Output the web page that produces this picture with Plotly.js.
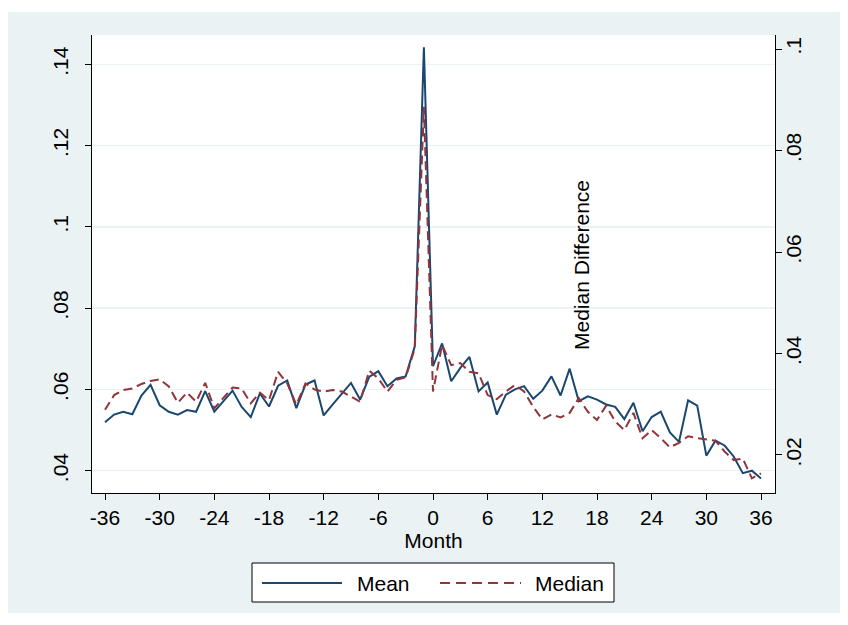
<!DOCTYPE html>
<html>
<head>
<meta charset="utf-8">
<script src="https://cdn.plot.ly/plotly-3.0.1.min.js"></script>
<style>html,body{margin:0;padding:0;background:#fff;}#chart{width:848px;height:625px;}</style>
</head>
<body>
<div id="chart"></div>
<script>
const months = [-36,-35,-34,-33,-32,-31,-30,-29,-28,-27,-26,-25,-24,-23,-22,-21,-20,-19,-18,-17,-16,-15,-14,-13,-12,-11,-10,-9,-8,-7,-6,-5,-4,-3,-2,-1,0,1,2,3,4,5,6,7,8,9,10,11,12,13,14,15,16,17,18,19,20,21,22,23,24,25,26,27,28,29,30,31,32,33,34,35,36];
const meanVals = [0.0519,0.0538,0.0545,0.0539,0.0585,0.0611,0.0561,0.0545,0.0538,0.0549,0.0545,0.0596,0.0545,0.0571,0.0597,0.0557,0.0532,0.0590,0.0558,0.0609,0.0622,0.0554,0.0612,0.0622,0.0536,0.0563,0.0590,0.0616,0.0575,0.0631,0.0645,0.0608,0.0627,0.0632,0.0706,0.1442,0.0657,0.0713,0.0620,0.0653,0.0680,0.0595,0.0617,0.0538,0.0587,0.0600,0.0608,0.0577,0.0597,0.0632,0.0585,0.0651,0.0571,0.0583,0.0575,0.0563,0.0557,0.0527,0.0567,0.0497,0.0532,0.0545,0.0494,0.0471,0.0573,0.0560,0.0437,0.0474,0.0462,0.0435,0.0394,0.0400,0.0381];
const medianVals = [0.0289,0.0318,0.0328,0.0331,0.0340,0.0346,0.0349,0.0335,0.0303,0.0323,0.0305,0.0342,0.0292,0.0312,0.0333,0.0331,0.0302,0.0323,0.0308,0.0364,0.0341,0.0299,0.0341,0.0329,0.0325,0.0328,0.0325,0.0315,0.0305,0.0366,0.0351,0.0325,0.0348,0.0353,0.0410,0.0886,0.0325,0.0417,0.0377,0.0381,0.0364,0.0361,0.0318,0.0310,0.0325,0.0338,0.0325,0.0295,0.0270,0.0280,0.0274,0.0283,0.0312,0.0285,0.0269,0.0297,0.0266,0.0249,0.0283,0.0233,0.0249,0.0233,0.0215,0.0224,0.0237,0.0233,0.0231,0.0228,0.0207,0.0190,0.0193,0.0154,0.0164];
const xTicks = [-36,-30,-24,-18,-12,-6,0,6,12,18,24,30,36];
const leftTickVals = [0.04,0.06,0.08,0.10,0.12,0.14];
const leftTickText = ['.04','.06','.08','.1','.12','.14'];
const rightTickVals = [0.02,0.04,0.06,0.08,0.10];
const rightTickText = ['.02','.04','.06','.08','.1'];
const seriesNames = ['Mean','Median'];
const xTitle = 'Month';
const y2Title = 'Median Difference';

const MEAN_COLOR = '#1a476f';
const MED_COLOR = '#90353b';
const BG = '#eaf2f3';
const FONT = 'Liberation Sans, Arial, Helvetica, sans-serif';

// plot area in pixels
const P = {l: 92, r: 775, t: 35, b: 493};
const W = 848, H = 625;
const px = x => (x - P.l) / (P.r - P.l);
const py = y => (P.b - y) / (P.b - P.t);

const traces = [
  {x: months, y: meanVals, type: 'scatter', mode: 'lines', name: seriesNames[0],
   line: {color: MEAN_COLOR, width: 2}, yaxis: 'y', showlegend: false},
  {x: months, y: medianVals, type: 'scatter', mode: 'lines', name: seriesNames[1],
   line: {color: MED_COLOR, width: 2, dash: '9px,5px'}, yaxis: 'y2', showlegend: false}
];

const shapes = [
  {type: 'rect', xref: 'paper', yref: 'paper', layer: 'below',
   x0: px(8), x1: px(840), y0: py(613), y1: py(12), fillcolor: BG, line: {width: 0}},
  {type: 'rect', xref: 'paper', yref: 'paper', layer: 'below',
   x0: 0, x1: 1, y0: 0, y1: 1, fillcolor: '#ffffff', line: {width: 0}},
  // legend box
  {type: 'rect', xref: 'paper', yref: 'paper', layer: 'above',
   x0: px(252), x1: px(614), y0: py(602), y1: py(563), fillcolor: '#ffffff', line: {color: '#000', width: 1}},
  {type: 'line', xref: 'paper', yref: 'paper', x0: px(262), x1: px(342), y0: py(583), y1: py(583),
   line: {color: MEAN_COLOR, width: 2}},
  {type: 'line', xref: 'paper', yref: 'paper', x0: px(440), x1: px(521), y0: py(583), y1: py(583),
   line: {color: MED_COLOR, width: 2, dash: '10px,6px'}}
];

const annotations = [
  {xref: 'paper', yref: 'paper', x: px(355), y: py(583), xanchor: 'left', yanchor: 'middle',
   text: seriesNames[0], showarrow: false, font: {family: FONT, size: 21, color: '#000'}},
  {xref: 'paper', yref: 'paper', x: px(533), y: py(583), xanchor: 'left', yanchor: 'middle',
   text: seriesNames[1], showarrow: false, font: {family: FONT, size: 21, color: '#000'}},
  {xref: 'paper', yref: 'paper', x: px(581), y: py(265), xanchor: 'center', yanchor: 'middle',
   text: y2Title, textangle: -90, showarrow: false, font: {family: FONT, size: 21, color: '#000'}}
];

const layout = {
  width: W, height: H,
  margin: {l: P.l, r: W - P.r, t: P.t, b: H - P.b, pad: 0},
  paper_bgcolor: '#ffffff', plot_bgcolor: 'rgba(0,0,0,0)',
  font: {family: FONT, size: 21, color: '#000'},
  showlegend: false,
  xaxis: {
    range: [-37.427, 37.537], tickvals: xTicks, ticktext: xTicks.map(String),
    ticks: 'outside', ticklen: 6, tickcolor: '#000', tickwidth: 1,
    showline: true, linecolor: '#000', linewidth: 1, showgrid: false, zeroline: false,
    tickfont: {family: FONT, size: 21, color: '#000'},
    title: {text: xTitle, font: {family: FONT, size: 21, color: '#000'}, standoff: 0}
  },
  yaxis: {
    range: [0.03451, 0.14721], tickvals: leftTickVals, ticktext: leftTickText,
    tickangle: -90, ticks: 'outside', ticklen: 6, tickcolor: '#000', tickwidth: 1,
    showline: true, linecolor: '#000', linewidth: 1,
    showgrid: true, gridcolor: BG, gridwidth: 1.5, zeroline: false,
    tickfont: {family: FONT, size: 21, color: '#000'}, ticklabelstandoff: 9
  },
  yaxis2: {
    range: [0.01251, 0.10276], tickvals: rightTickVals, ticktext: rightTickText,
    overlaying: 'y', side: 'right', anchor: 'x',
    tickangle: -90, ticks: 'outside', ticklen: 6, tickcolor: '#000', tickwidth: 1,
    showline: true, linecolor: '#000', linewidth: 1, showgrid: false, zeroline: false,
    tickfont: {family: FONT, size: 21, color: '#000'}, ticklabelstandoff: -6
  },
  shapes: shapes,
  annotations: annotations
};

Plotly.newPlot('chart', traces, layout, {staticPlot: true, displayModeBar: false});
</script>
</body>
</html>
